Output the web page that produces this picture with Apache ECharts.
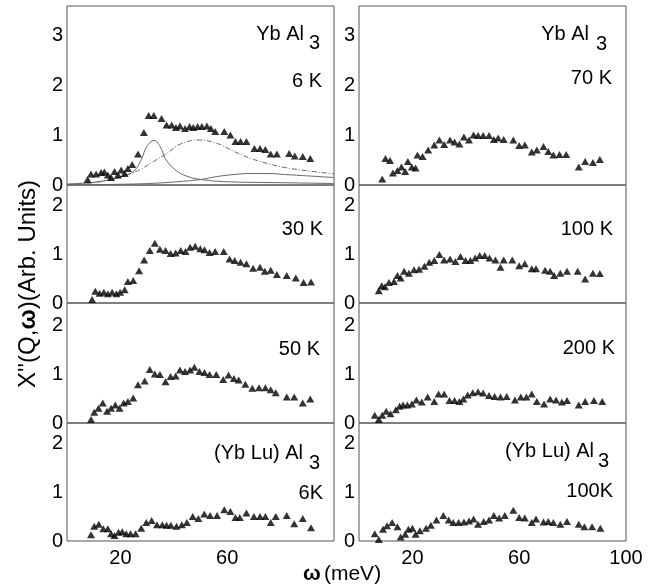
<!DOCTYPE html>
<html>
<head>
<meta charset="utf-8">
<script src="https://cdn.jsdelivr.net/npm/echarts@6/dist/echarts.min.js"></script>
<style>
html,body{margin:0;padding:0;background:#fff}
#chart{width:654px;height:588px}
</style>
</head>
<body>
<div id="chart"></div>
<script>
// energy transfer w (meV) and chi'' (arb. units), one pair per panel

// YbAl3, 6 K
const yb6K_w = [7.7,9.0,10.9,12.8,14.0,15.3,16.5,17.8,19.1,20.3,21.6,22.8,24.4,26.6,28.8,30.6,32.5,35.4,37.3,39.2,40.8,42.3,44.2,45.9,47.3,48.9,50.5,52.4,53.9,55.5,58.9,61.2,63.1,65.0,67.2,70.2,72.3,74.3,76.3,78.6,83.2,85.3,88.3,91.1];
const yb6K_chi = [0.11,0.22,0.22,0.25,0.26,0.2,0.15,0.27,0.2,0.3,0.23,0.33,0.41,0.62,1.05,1.39,1.39,1.33,1.2,1.2,1.15,1.18,1.13,1.17,1.15,1.17,1.17,1.18,1.13,1.07,1.07,1.0,0.87,0.87,0.87,0.73,0.73,0.71,0.62,0.62,0.63,0.58,0.57,0.53];

// fitted components drawn in the 6 K panel
const fitNarrow_w = [0,12.3,22.3,25.5,28.0,29.9,32.6,34.9,36.8,40.0,43.7,50.0,62.6,75.2,100];
const fitNarrow_chi = [0.02,0.07,0.2,0.3,0.53,0.77,0.89,0.77,0.53,0.33,0.2,0.11,0.06,0.05,0.03];
const fitBroad_w = [0,7.2,16.0,22.3,27.4,32.4,37.4,42.5,49.4,56.3,62.6,68.9,75.2,81.5,87.7,100];
const fitBroad_chi = [0.01,0.03,0.1,0.2,0.31,0.47,0.63,0.82,0.9,0.83,0.67,0.53,0.43,0.35,0.3,0.22];
const fitLow_w = [0,24.9,37.4,50.0,56.3,62.6,68.9,75.2,81.5,87.7,100];
const fitLow_chi = [0,0.02,0.05,0.11,0.17,0.21,0.23,0.23,0.21,0.19,0.15];

// YbAl3, 30 K
const yb30K_w = [9.4,10.6,12.2,13.8,15.3,16.9,18.5,19.9,21.6,22.8,24.8,27.0,28.9,31.0,32.9,34.8,36.9,38.8,40.7,42.6,44.4,46.1,48.0,49.9,51.5,53.4,55.5,58.7,60.9,62.8,65.0,67.2,69.7,72.3,74.1,76.3,78.6,82.3,85.7,88.6,91.4];
const yb30K_chi = [0.07,0.24,0.2,0.22,0.19,0.22,0.19,0.22,0.27,0.44,0.46,0.66,0.88,1.07,1.22,1.1,1.07,1.01,1.02,1.07,1.05,1.14,1.16,1.11,1.09,1.03,1.05,1.05,0.9,0.87,0.83,0.8,0.71,0.73,0.65,0.67,0.58,0.56,0.51,0.42,0.43];

// YbAl3, 50 K
const yb50K_w = [9.0,10.2,11.8,13.4,15.0,16.5,18.1,19.7,21.2,22.8,24.8,26.6,29.1,31.0,32.9,34.8,36.9,38.8,40.7,42.3,44.2,46.1,47.7,49.6,51.5,53.4,55.9,58.5,60.5,62.5,64.3,66.8,69.4,71.9,74.3,76.3,78.2,82.3,85.1,88.3,91.1];
const yb50K_chi = [0.07,0.22,0.3,0.41,0.24,0.3,0.37,0.3,0.41,0.44,0.51,0.78,0.86,1.09,1.0,0.99,0.84,0.95,0.96,1.08,1.05,1.08,1.14,1.05,1.03,0.99,0.99,0.89,0.98,0.91,0.88,0.79,0.71,0.72,0.72,0.68,0.62,0.53,0.53,0.41,0.49];

// (YbLu)Al3, 6 K
const ybLu6K_w = [9.0,10.2,11.9,13.6,15.3,16.5,17.8,19.3,20.7,22.2,23.8,25.7,27.8,29.7,31.7,33.7,35.7,37.3,38.9,41.0,43.0,44.9,47.1,49.2,51.4,53.6,56.2,58.9,61.2,63.1,64.7,67.2,70.0,72.3,74.3,76.3,78.2,82.3,85.1,88.3,91.4];
const ybLu6K_chi = [0.13,0.3,0.34,0.25,0.25,0.15,0.11,0.18,0.19,0.15,0.15,0.15,0.26,0.38,0.42,0.33,0.33,0.32,0.32,0.3,0.33,0.38,0.5,0.46,0.55,0.52,0.52,0.64,0.6,0.48,0.48,0.57,0.5,0.5,0.5,0.38,0.5,0.52,0.35,0.46,0.27];

// YbAl3, 70 K
const yb70K_w = [8.7,9.9,11.6,12.7,14.4,15.9,17.3,18.3,19.8,21.2,21.9,23.8,25.9,28.2,30.1,31.9,34.1,35.8,37.6,39.3,41.2,42.9,44.6,46.5,48.7,50.5,52.1,54.2,57.8,60.0,62.1,64.7,66.6,69.1,70.9,72.8,75.1,77.6,82.3,84.7,87.6,90.2];
const yb70K_chi = [0.12,0.53,0.49,0.24,0.29,0.36,0.27,0.47,0.36,0.34,0.6,0.57,0.7,0.8,0.9,0.81,0.9,0.86,0.82,0.96,0.9,1.0,0.99,0.99,0.99,0.91,0.94,0.91,0.9,0.79,0.8,0.66,0.7,0.77,0.67,0.6,0.61,0.61,0.36,0.47,0.45,0.51];

// YbAl3, 100 K
const yb100K_w = [7.4,8.5,9.7,11.2,13.1,14.4,15.6,16.9,18.7,20.6,22.5,24.5,26.3,28.2,30.1,31.9,34.1,36.1,38.0,39.9,41.7,43.5,45.2,47.1,48.9,51.1,53.0,54.2,57.4,60.0,62.1,64.7,66.3,69.7,71.6,73.1,75.4,77.9,81.9,84.7,87.6,90.2];
const yb100K_chi = [0.25,0.35,0.33,0.42,0.44,0.56,0.51,0.65,0.61,0.68,0.69,0.75,0.83,0.87,0.99,0.88,0.9,0.85,0.95,0.87,0.87,0.92,0.97,0.97,0.92,0.88,0.73,0.88,0.88,0.76,0.8,0.7,0.7,0.67,0.65,0.56,0.61,0.65,0.65,0.49,0.61,0.6];

// YbAl3, 200 K
const yb200K_w = [5.9,7.4,8.7,10.2,11.8,13.8,15.2,16.5,18.1,19.8,21.5,23.5,25.7,28.2,29.8,31.9,33.9,35.8,37.6,39.1,40.7,42.6,44.6,46.5,48.7,50.8,53.0,55.3,58.4,60.6,62.7,64.7,66.6,69.3,71.6,73.8,76.0,77.9,82.3,84.7,88.0,91.1];
const yb200K_chi = [0.16,0.07,0.16,0.24,0.19,0.27,0.34,0.37,0.37,0.39,0.47,0.43,0.53,0.44,0.59,0.59,0.46,0.46,0.44,0.49,0.57,0.62,0.64,0.61,0.56,0.54,0.53,0.54,0.47,0.53,0.53,0.59,0.44,0.39,0.49,0.47,0.43,0.46,0.37,0.44,0.46,0.44];

// (YbLu)Al3, 100 K
const ybLu100K_w = [5.9,7.4,9.0,10.5,12.4,14.4,15.6,17.3,18.5,20.0,21.2,22.8,25.1,26.9,29.0,31.6,33.6,35.3,37.3,39.3,41.2,42.9,44.6,46.7,48.7,50.5,52.5,54.6,57.8,60.0,62.1,64.7,66.3,69.1,70.9,72.8,75.4,77.9,82.3,84.4,87.3,90.4];
const ybLu100K_chi = [0.15,0.03,0.24,0.31,0.38,0.29,0.08,0.14,0.24,0.26,0.14,0.21,0.26,0.32,0.43,0.52,0.43,0.38,0.38,0.39,0.41,0.45,0.34,0.4,0.43,0.52,0.47,0.52,0.63,0.48,0.47,0.38,0.45,0.39,0.4,0.38,0.34,0.4,0.34,0.29,0.29,0.26];

// tick labels
const xTickLeft = [20, 60];
const xTickRight = [20, 60, 100];
const yMaxByRow = [3.58, 2.41, 2.45, 2.41];

const FONT = '"Liberation Sans", Arial, Helvetica, sans-serif';
const INK = '#000';

// layout of the 2 x 4 stack
const rowTop = [6, 185, 303, 423];
const rowH = [179, 118, 120, 118];
const colLeft = [67, 359];
const colW = [267, 267];

const panels = [
    {col:0, row:0, w:yb6K_w, chi:yb6K_chi},
    {col:0, row:1, w:yb30K_w, chi:yb30K_chi},
    {col:0, row:2, w:yb50K_w, chi:yb50K_chi},
    {col:0, row:3, w:ybLu6K_w, chi:ybLu6K_chi},
    {col:1, row:0, w:yb70K_w, chi:yb70K_chi},
    {col:1, row:1, w:yb100K_w, chi:yb100K_chi},
    {col:1, row:2, w:yb200K_w, chi:yb200K_chi},
    {col:1, row:3, w:ybLu100K_w, chi:ybLu100K_chi}
];

const zip = (a, b) => a.map((v, i) => [v, b[i]]);

const grid = [], xAxis = [], yAxis = [], series = [];
panels.forEach((p, i) => {
    grid.push({
        left: colLeft[p.col], top: rowTop[p.row],
        width: colW[p.col], height: rowH[p.row],
        show: true, borderColor: '#555', borderWidth: 1,
        containLabel: false, outerBoundsMode: 'none'
    });
    const ticks = p.col === 0 ? xTickLeft : xTickRight;
    xAxis.push({
        gridIndex: i, type: 'value', min: 0, max: 100, interval: 20,
        axisLine: {show: false}, axisTick: {show: false}, splitLine: {show: false},
        axisLabel: {
            show: p.row === 3, margin: 7, fontSize: 20, color: INK, fontFamily: FONT,
            formatter: v => ticks.indexOf(v) >= 0 ? String(v) : ''
        }
    });
    yAxis.push({
        gridIndex: i, type: 'value', min: 0, max: yMaxByRow[p.row], interval: 1,
        axisLine: {show: false}, axisTick: {show: false}, splitLine: {show: false},
        axisLabel: {
            margin: 4, fontSize: 20, color: INK, fontFamily: FONT,
            formatter: v => Number.isInteger(v) ? String(v) : ''
        }
    });
    series.push({
        type: 'scatter', xAxisIndex: i, yAxisIndex: i,
        symbol: 'triangle', symbolSize: [8, 7],
        itemStyle: {color: '#000'},
        data: zip(p.w, p.chi)
    });
});

// fit curves, panel 0
const fits = [
    [fitNarrow_w, fitNarrow_chi, 'solid'],
    [fitBroad_w, fitBroad_chi, [5, 2, 1, 2]],
    [fitLow_w, fitLow_chi, 'solid']
];
fits.forEach(f => {
    series.push({
        type: 'line', xAxisIndex: 0, yAxisIndex: 0, smooth: 0.4,
        showSymbol: false, silent: true, z: 1,
        lineStyle: {color: '#666', width: 1, type: f[2]},
        data: zip(f[0], f[1])
    });
});

// panel captions: [right x, top y, text]
const captions = [
    [304, 24, 'Yb Al'], [320, 33, '3'], [322, 71, '6 K'],
    [589, 24, 'Yb Al'], [607, 34, '3'], [612, 68, '70 K'],
    [323, 219, '30 K'], [613, 219, '100 K'],
    [320, 339, '50 K'], [615, 338, '200 K'],
    [303, 443, '(Yb Lu) Al'], [320, 453, '3'], [323, 483, '6K'],
    [594, 441, '(Yb Lu) Al'], [609, 451, '3'], [613, 481, '100K']
];
const graphic = captions.map(c => ({
    type: 'text', x: c[0], y: c[1], silent: true,
    style: {text: c[2], font: '20px ' + FONT, fill: INK, textAlign: 'right', textVerticalAlign: 'top'}
}));

// axis titles
graphic.push({
    type: 'text', x: 28, y: 284, rotation: Math.PI / 2, silent: true,
    style: {
        text: "{r|X''(Q,}{b|ω}{r|)(Arb. Units)}",
        textAlign: 'center', textVerticalAlign: 'middle',
        rich: {
            r: {fontSize: 24, fontFamily: FONT, fill: INK, color: INK},
            b: {fontSize: 24, fontFamily: FONT, fontWeight: 'bold', fill: INK, color: INK}
        }
    }
});
graphic.push({
    type: 'text', x: 342, y: 574, silent: true,
    style: {
        text: '{b|ω} {r|(meV)}',
        textAlign: 'center', textVerticalAlign: 'middle',
        rich: {
            r: {fontSize: 21, fontFamily: FONT, fill: INK, color: INK},
            b: {fontSize: 21, fontFamily: FONT, fontWeight: 'bold', fill: INK, color: INK}
        }
    }
});

const chart = echarts.init(document.getElementById('chart'), null, {renderer: 'canvas'});
chart.setOption({
    backgroundColor: '#fff',
    animation: false,
    grid: grid,
    xAxis: xAxis,
    yAxis: yAxis,
    series: series,
    graphic: graphic
});
</script>
</body>
</html>
